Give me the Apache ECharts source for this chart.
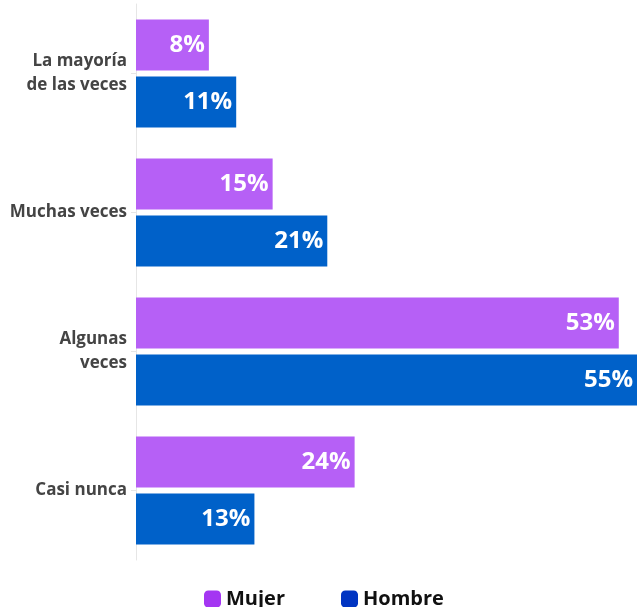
<!DOCTYPE html>
<html>
<head>
<meta charset="utf-8">
<script src="https://cdn.jsdelivr.net/npm/echarts@6/dist/echarts.min.js"></script>
<style>
  html, body { margin: 0; padding: 0; background: #fff; }
  #chart { width: 638px; height: 607px; }
</style>
</head>
<body>
<div id="chart"></div>
<script>
const categories = ["La mayoría\nde las veces", "Muchas veces", "Algunas\nveces", "Casi nunca"];
const mujer = [8, 15, 53, 24];
const hombre = [11, 21, 55, 13];

const chart = echarts.init(document.getElementById("chart"));
const labelStyle = {
  show: true,
  position: "insideRight",
  distance: 4,
  color: "#fff",
  fontFamily: "Open Sans",
  fontWeight: "bold",
  fontSize: 24,
  formatter: "{c}%",
};
chart.setOption({
  animation: false,
  grid: { left: 136, right: 1, top: 4, bottom: 47, containLabel: false },
  legend: {
    bottom: -7,
    left: 199,
    itemWidth: 17,
    itemHeight: 17,
    itemGap: 56,
    icon: "roundRect",
    textStyle: { fontFamily: "Open Sans", fontWeight: "bold", fontSize: 20, color: "#111" },
    data: [
      { name: "Mujer", itemStyle: { color: "#a436f2" } },
      { name: "Hombre", itemStyle: { color: "#0034c2" } },
    ],
  },
  xAxis: {
    type: "value",
    min: 0,
    max: 55,
    show: false,
  },
  yAxis: {
    type: "category",
    inverse: true,
    data: categories,
    axisLine: { show: true, lineStyle: { color: "#e6e6e6", width: 1 } },
    axisTick: { show: true, alignWithLabel: true, length: 5, lineStyle: { color: "#e6e6e6" } },
    axisLabel: {
      color: "#444",
      fontFamily: "Open Sans",
      fontWeight: "bold",
      fontSize: 17,
      lineHeight: 24,
      align: "right",
      margin: 9,
    },
  },
  series: [
    {
      name: "Mujer",
      type: "bar",
      data: mujer,
      barWidth: 51,
      barGap: "12%",
      itemStyle: { color: "#b660f6" },
      label: labelStyle,
    },
    {
      name: "Hombre",
      type: "bar",
      data: hombre,
      barWidth: 51,
      itemStyle: { color: "#0061c9" },
      label: labelStyle,
    },
  ],
});
</script>
</body>
</html>
